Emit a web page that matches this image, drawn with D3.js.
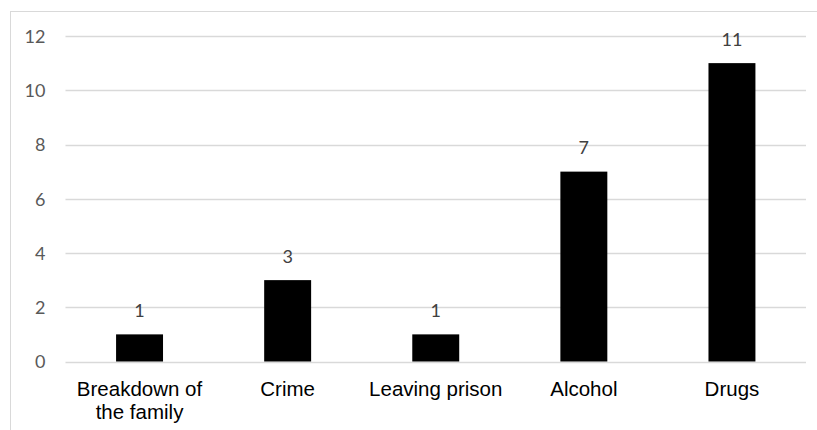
<!DOCTYPE html>
<html>
<head>
<meta charset="utf-8">
<script src="https://cdn.jsdelivr.net/npm/d3@7"></script>
<style>
  html, body { margin: 0; padding: 0; background: #fff; }
  svg { display: block; }
</style>
</head>
<body>
<div id="chart"></div>
<script>
// Reasons given, with the count of responses for each
const categories = ["Breakdown of the family", "Crime", "Leaving prison", "Alcohol", "Drugs"];
const categoryLines = [["Breakdown of", "the family"], ["Crime"], ["Leaving prison"], ["Alcohol"], ["Drugs"]];
const counts = [1, 3, 1, 7, 11];
const yTicks = [0, 2, 4, 6, 8, 10, 12];

const W = 817, H = 430;
const margin = { left: 65.5, right: 11, top: 36, bottom: 68.5 };

const svg = d3.select("#chart").append("svg")
  .attr("width", W).attr("height", H);

// chart area frame
svg.append("rect")
  .attr("x", 10.5).attr("y", 11.5)
  .attr("width", W + 20).attr("height", H + 20)
  .attr("fill", "none").attr("stroke", "#d9d9d9").attr("stroke-width", 1);

const x = d3.scaleBand()
  .domain(categories)
  .range([margin.left, W - margin.right])
  .paddingInner(0.683).paddingOuter(0.3415);

const y = d3.scaleLinear()
  .domain([0, 12])
  .range([H - margin.bottom, margin.top]);

// horizontal gridlines
svg.append("g")
  .selectAll("line")
  .data(yTicks)
  .join("line")
  .attr("x1", margin.left).attr("x2", W - margin.right)
  .attr("y1", d => Math.round(y(d)) + 0.5).attr("y2", d => Math.round(y(d)) + 0.5)
  .attr("stroke", "#d9d9d9").attr("stroke-width", 1.3);

// value axis labels
const yAxis = d3.axisLeft(y).tickValues(yTicks).tickSize(0).tickPadding(0);
const gy = svg.append("g")
  .attr("transform", `translate(${margin.left - 20},0)`)
  .call(yAxis);
gy.select(".domain").remove();
gy.selectAll("text")
  .attr("font-family", "Lato, 'Open Sans', sans-serif")
  .attr("font-size", 18)
  .attr("fill", "#595959")
  .attr("dy", "0.36em");

// bars
svg.append("g")
  .selectAll("rect")
  .data(counts)
  .join("rect")
  .attr("x", (d, i) => x(categories[i]))
  .attr("width", x.bandwidth())
  .attr("y", d => y(d))
  .attr("height", d => y(0) - y(d))
  .attr("fill", "#000");

// data labels above bars
svg.append("g")
  .selectAll("text")
  .data(counts)
  .join("text")
  .attr("x", (d, i) => x(categories[i]) + x.bandwidth() / 2)
  .attr("y", d => y(d) - 17.5)
  .attr("text-anchor", "middle")
  .attr("font-family", "Lato, 'Open Sans', sans-serif")
  .attr("font-size", 18)
  .attr("fill", "#404040")
  .text(d => d);

// category labels
const cat = svg.append("g")
  .selectAll("text")
  .data(categories)
  .join("text")
  .attr("x", d => x(d) + x.bandwidth() / 2)
  .attr("y", 396)
  .attr("text-anchor", "middle")
  .attr("font-family", "'Liberation Sans', Arial, sans-serif")
  .attr("font-size", 20.5)
  .attr("fill", "#000");
cat.selectAll("tspan")
  .data((d, i) => categoryLines[i])
  .join("tspan")
  .attr("x", function() { return d3.select(this.parentNode).attr("x"); })
  .attr("dy", (d, i) => i === 0 ? 0 : 23)
  .text(d => d);
</script>
</body>
</html>
